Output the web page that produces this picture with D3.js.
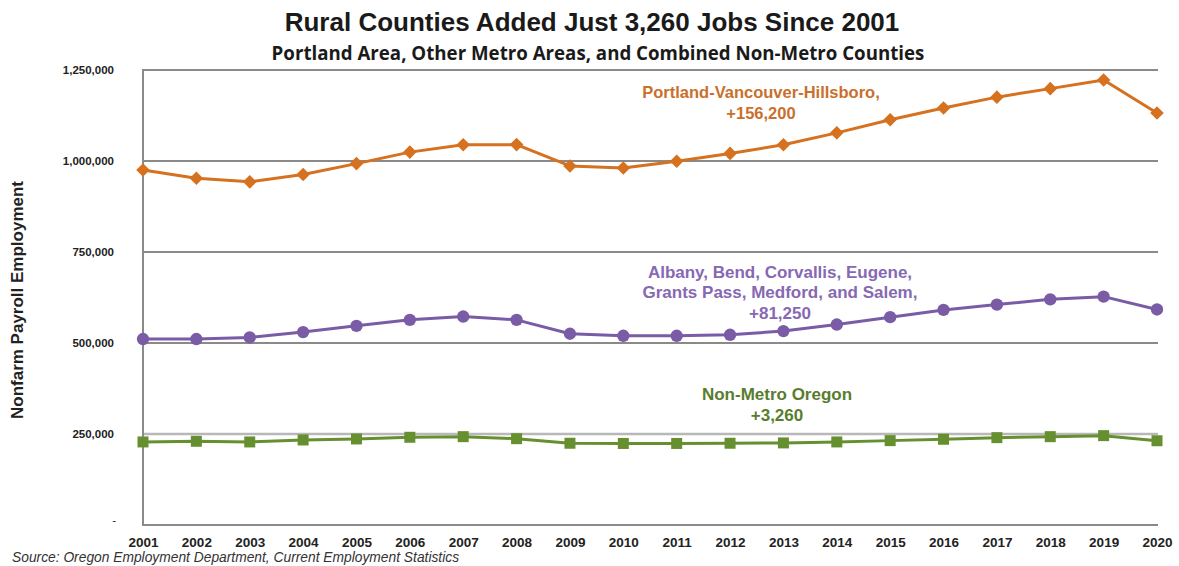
<!DOCTYPE html>
<html>
<head>
<meta charset="utf-8">
<script src="https://cdn.jsdelivr.net/npm/d3@7/dist/d3.min.js"></script>
<style>
  html, body { margin: 0; padding: 0; background: #fff; }
  svg { display: block; }
  text { font-family: "Liberation Sans", Arial, sans-serif; }
</style>
</head>
<body>
<svg id="chart" width="1179" height="566"></svg>
<script>
// Nonfarm payroll employment, annual, 2001-2020
const years = ["2001","2002","2003","2004","2005","2006","2007","2008","2009","2010",
               "2011","2012","2013","2014","2015","2016","2017","2018","2019","2020"];

const portland = [975500, 952800, 942700, 962800, 992800, 1024400, 1044600, 1045000, 986400, 980900,
                  999100, 1020900, 1044600, 1077300, 1113500, 1145400, 1175400, 1198800, 1222600, 1131700];

const otherMetro = [510900, 510900, 515200, 530000, 547200, 563600, 572700, 563600, 525400, 519900,
                    519900, 522600, 532700, 550700, 570900, 590900, 605500, 620000, 627300, 592150];

const nonMetro = [228200, 230000, 228200, 233600, 236400, 241000, 242700, 237200, 224600, 224000,
                  224000, 224600, 225500, 228200, 231800, 235500, 240000, 242700, 245500, 231460];

const yTicks = [0, 250000, 500000, 750000, 1000000, 1250000];

const titleText = "Rural Counties Added Just 3,260 Jobs Since 2001";
const subtitleText = "Portland Area, Other Metro Areas, and Combined Non-Metro Counties";
const yAxisTitle = "Nonfarm Payroll Employment";
const sourceText = "Source: Oregon Employment Department, Current Employment Statistics";

const portlandLabel = ["Portland-Vancouver-Hillsboro,", "+156,200"];
const otherLabel = ["Albany, Bend, Corvallis, Eugene,", "Grants Pass, Medford, and Salem,", "+81,250"];
const nonMetroLabel = ["Non-Metro Oregon", "+3,260"];

const svg = d3.select("#chart");

const x = d3.scalePoint().domain(years).range([143, 1157]);
const y = d3.scaleLinear().domain([0, 1250000]).range([525, 70]);

// Titles
svg.append("text")
  .attr("x", 592).attr("y", 31)
  .attr("text-anchor", "middle")
  .attr("font-size", 26).attr("font-weight", "bold")
  .attr("fill", "#1a1a1a")
  .text(titleText);

svg.append("text")
  .attr("x", 598).attr("y", 60)
  .attr("text-anchor", "middle")
  .style("font-family", "'Open Sans', 'Noto Sans', sans-serif")
  .attr("font-size", 18.7).attr("font-weight", "bold")
  .attr("fill", "#1a1a1a")
  .text(subtitleText);

// Gridlines
svg.append("g")
  .selectAll("line")
  .data(yTicks.filter(d => d > 0))
  .join("line")
  .attr("x1", x(years[0])).attr("x2", x(years[years.length - 1]) + 1)
  .attr("y1", d => y(d)).attr("y2", d => y(d))
  .attr("stroke", d => d === 250000 ? "#b8b8b8" : "#8a8a8a")
  .attr("stroke-width", d => d === 250000 ? 2.5 : 2);

// Axis lines
svg.append("line")
  .attr("x1", x(years[0])).attr("x2", x(years[0]))
  .attr("y1", y(1250000) - 1).attr("y2", y(0) + 1)
  .attr("stroke", "#8a8a8a").attr("stroke-width", 2);
svg.append("line")
  .attr("x1", x(years[0])).attr("x2", x(years[years.length - 1]) + 1)
  .attr("y1", y(0)).attr("y2", y(0))
  .attr("stroke", "#8a8a8a").attr("stroke-width", 2);

// Y axis labels
const yAxis = d3.axisLeft(y)
  .tickValues(yTicks)
  .tickSize(0)
  .tickPadding(0)
  .tickFormat(d => d === 0 ? "-" : d3.format(",")(d));
const yg = svg.append("g").attr("transform", "translate(114,0)").call(yAxis);
yg.select(".domain").remove();
yg.selectAll("text")
  .attr("font-size", 11.5).attr("font-weight", "bold")
  .attr("fill", "#222")
  .style("font-family", "'Liberation Sans', Arial, sans-serif");
yg.selectAll(".tick").filter(d => d === 0).select("text")
  .attr("x", 2).attr("dy", "-0.1em").attr("font-weight", "normal");

// X axis labels
const xAxis = d3.axisBottom(x).tickSize(0).tickPadding(0);
const xg = svg.append("g").attr("transform", "translate(0,537)").call(xAxis);
xg.select(".domain").remove();
xg.selectAll("text")
  .attr("font-size", 13.5).attr("font-weight", "bold")
  .attr("fill", "#222")
  .style("font-family", "'Liberation Sans', Arial, sans-serif");

// Y axis title
svg.append("text")
  .attr("transform", "translate(23,300) rotate(-90)")
  .attr("text-anchor", "middle")
  .attr("font-size", 17).attr("font-weight", "bold")
  .attr("fill", "#222")
  .text(yAxisTitle);

// Source
svg.append("text")
  .attr("x", 12).attr("y", 562)
  .attr("font-size", 13.8).attr("font-style", "italic")
  .attr("fill", "#333")
  .text(sourceText);

// Series
const line = d3.line()
  .x((d, i) => x(years[i]))
  .y(d => y(d));

// Square-proportioned diamond marker
const diamond = {
  draw(ctx, size) {
    const r = Math.sqrt(size / 2);
    ctx.moveTo(0, -r);
    ctx.lineTo(r, 0);
    ctx.lineTo(0, r);
    ctx.lineTo(-r, 0);
    ctx.closePath();
  }
};

function drawSeries(values, color, symbolType, size) {
  const g = svg.append("g");
  g.append("path")
    .datum(values)
    .attr("d", line)
    .attr("fill", "none")
    .attr("stroke", color)
    .attr("stroke-width", 3)
    .attr("stroke-linejoin", "round");
  g.selectAll("path.marker")
    .data(values)
    .join("path")
    .attr("class", "marker")
    .attr("transform", (d, i) => `translate(${x(years[i])},${y(d)})`)
    .attr("d", d3.symbol().type(symbolType).size(size))
    .attr("fill", color);
}

drawSeries(nonMetro, "#66902f", d3.symbolSquare, 121);
drawSeries(otherMetro, "#7a5ba6", d3.symbolCircle, 120);
drawSeries(portland, "#d5711f", diamond, 92);

// Series annotations
function annotate(lines, cx, y0, dy, color, size) {
  svg.append("text")
    .attr("text-anchor", "middle")
    .attr("font-size", size).attr("font-weight", "bold")
    .attr("fill", color)
    .selectAll("tspan")
    .data(lines)
    .join("tspan")
    .attr("x", cx)
    .attr("y", (d, i) => y0 + i * dy)
    .text(d => d);
}

annotate(portlandLabel, 761, 98, 20.5, "#c8702c", 16.5);
annotate(otherLabel, 780, 278, 20.3, "#8668b3", 17);
annotate(nonMetroLabel, 777, 400, 20.5, "#587d2e", 17);
</script>
</body>
</html>
